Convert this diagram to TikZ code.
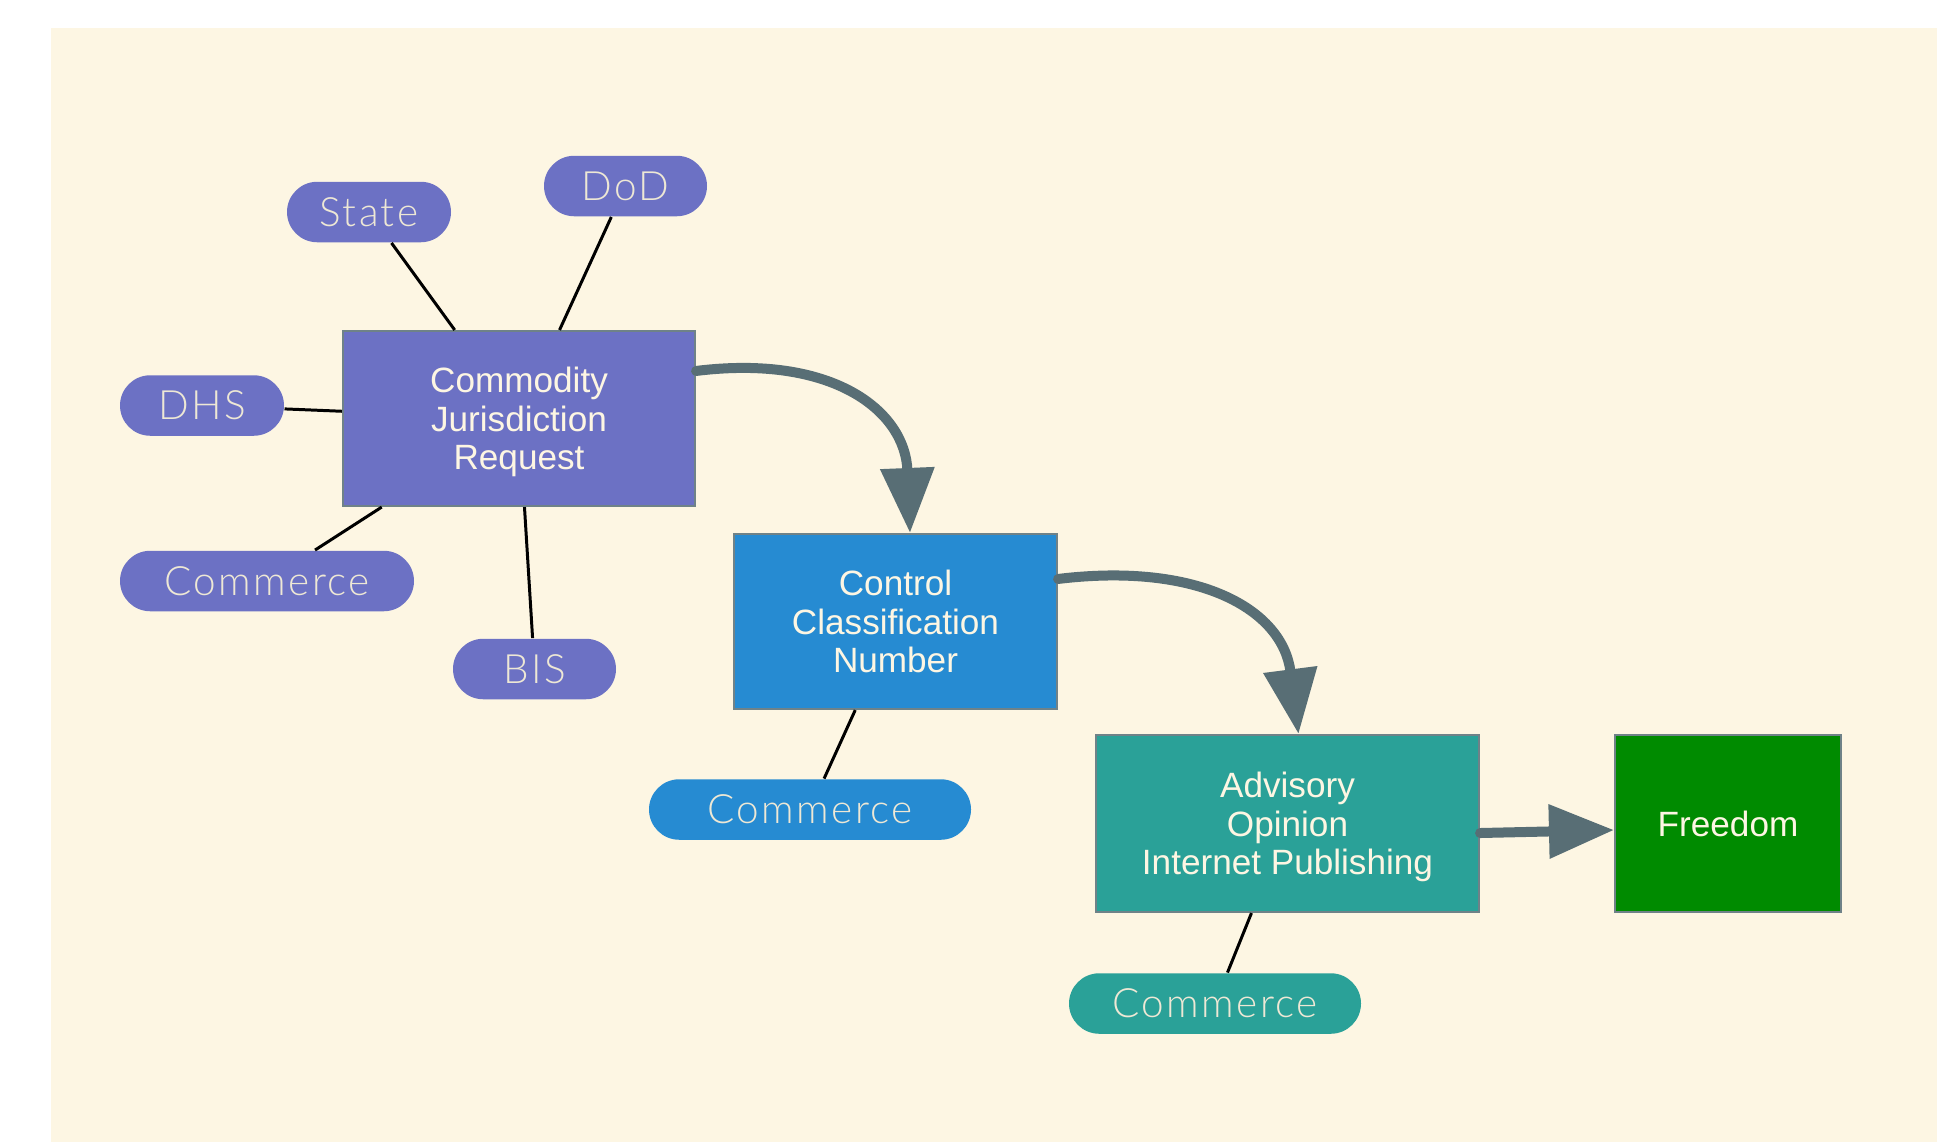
\documentclass[tikz,border=0pt]{standalone}
\usepackage{fontspec}
\setmainfont{Liberation Sans}
\newfontfamily\pillfont[UprightFont=* Light, LetterSpace=6]{Lato}
\usetikzlibrary{shapes.misc,arrows.meta}
\definecolor{bgc}{HTML}{FDF6E3}
\definecolor{violetc}{HTML}{6C71C4}
\definecolor{bluec}{HTML}{268BD2}
\definecolor{cyanc}{HTML}{2AA198}
\definecolor{greenc}{HTML}{008B00}
\definecolor{arrowc}{HTML}{586E75}
\definecolor{boxline}{HTML}{6F8288}
\definecolor{txtc}{HTML}{FDF6E3}
\definecolor{pilltxt}{HTML}{EEE8D5}
\begin{document}
\begin{tikzpicture}[
  box/.style={rectangle, draw=boxline, line width=0.6pt, text=txtc, align=center,
    font=\fontsize{10}{11}\selectfont, inner sep=0pt, text depth=0pt},
  pill/.style={rounded rectangle, text=pilltxt, font=\pillfont\fontsize{11.5}{13}\selectfont,
    minimum height=0.605cm, inner sep=0pt},
  link/.style={line width=0.85pt, draw=black},
  flow/.style={line width=0.1cm, draw=arrowc, line cap=round,
    -{Triangle[length=0.65cm,width=0.52cm]}}
]
\useasboundingbox (0,0) rectangle (19.37,-11.42);
\fill[bgc] (0.51,-0.28) rectangle (19.37,-11.42);

% main boxes
\node[box, fill=violetc, minimum width=3.52cm, minimum height=1.75cm] (cjr) at (5.19,-4.185) {Commodity\\Jurisdiction\\Request};
\node[box, fill=bluec, minimum width=3.23cm, minimum height=1.75cm] (ccn) at (8.955,-6.215) {Control\\Classification\\Number};
\node[box, fill=cyanc, minimum width=3.83cm, minimum height=1.77cm] (ao) at (12.875,-8.235) {Advisory\\Opinion\\Internet Publishing};
\node[box, fill=greenc, minimum width=2.26cm, minimum height=1.77cm] (fr) at (17.28,-8.235) {Freedom};

% pills
\node[pill, fill=violetc, minimum width=1.64cm] (state) at (3.69,-2.12) {State};
\node[pill, fill=violetc, minimum width=1.63cm] (dod) at (6.255,-1.86) {DoD};
\node[pill, fill=violetc, minimum width=1.64cm] (dhs) at (2.02,-4.055) {DHS};
\node[pill, fill=violetc, minimum width=2.94cm] (com1) at (2.67,-5.81) {Commerce};
\node[pill, fill=violetc, minimum width=1.63cm] (bis) at (5.345,-6.69) {BIS};
\node[pill, fill=bluec, minimum width=3.22cm] (com2) at (8.10,-8.095) {Commerce};
\node[pill, fill=cyanc, minimum width=2.92cm] (com3) at (12.15,-10.035) {Commerce};

% thin links
\draw[link] (state) -- (cjr);
\draw[link] (dod) -- (cjr);
\draw[link] (dhs) -- (cjr);
\draw[link] (com1) -- (cjr);
\draw[link] (bis) -- (cjr);
\draw[link] (com2) -- (ccn);
\draw[link] (com3) -- (ao);

% flow arrows
\draw[flow] ([yshift=-0.41cm]cjr.north east) .. controls +(1.37,0.17) and +(-0.05,1.22) .. ([xshift=0.145cm]ccn.north);
\draw[flow] ([yshift=-0.46cm]ccn.north east) .. controls +(1.40,0.17) and +(-0.16,1.25) .. ([xshift=0.11cm]ao.north);
\draw[flow] ([yshift=-0.095cm]ao.east) -- ([yshift=-0.065cm]fr.west);
\end{tikzpicture}
\end{document}
